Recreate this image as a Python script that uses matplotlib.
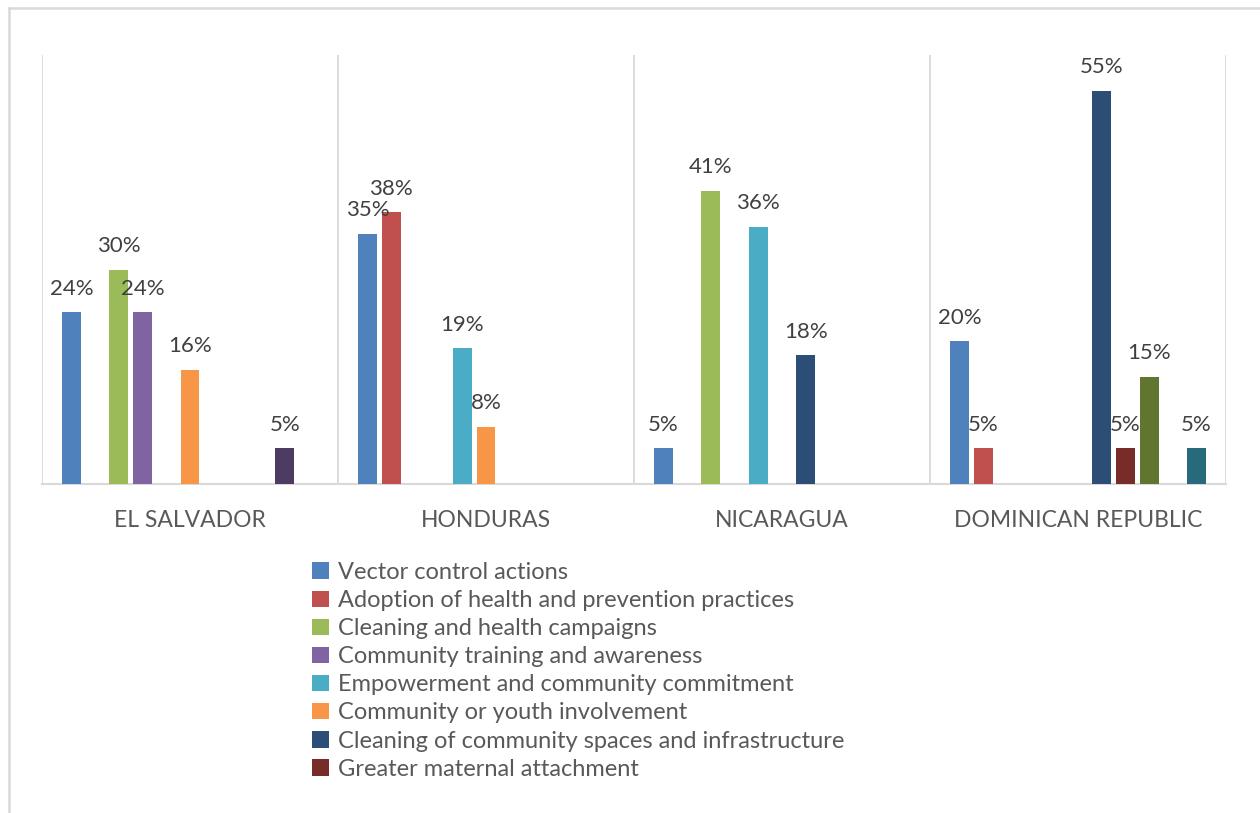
import matplotlib

matplotlib.use("Agg")
import matplotlib.pyplot as plt
import numpy as np
from matplotlib.lines import Line2D
from matplotlib.patches import Patch

plt.rcParams["font.family"] = ["Lato", "DejaVu Sans"]

countries = ["EL SALVADOR", "HONDURAS", "NICARAGUA", "DOMINICAN REPUBLIC"]

series_names = [
    "Vector control actions",
    "Adoption of health and prevention practices",
    "Cleaning and health campaigns",
    "Community training and awareness",
    "Empowerment and community commitment",
    "Community or youth involvement",
    "Cleaning of community spaces and infrastructure",
    "Greater maternal attachment",
    "Series 9",
    "Series 10",
    "Series 11",
]
n_legend = 8  # only the first eight entries are visible in the legend

nan = np.nan
vector_control = [24, 35, 5, 20]
adoption_practices = [nan, 38, nan, 5]
cleaning_campaigns = [30, nan, 41, nan]
community_training = [24, nan, nan, nan]
empowerment = [nan, 19, 36, nan]
youth_involvement = [16, 8, nan, nan]
cleaning_spaces = [nan, nan, 18, 55]
maternal_attachment = [nan, nan, nan, 5]
series_9 = [nan, nan, nan, 15]
series_10 = [5, nan, nan, nan]
series_11 = [nan, nan, nan, 5]

# slot order follows the Excel series order (9 = dark green, 10 = dark purple)
all_values = [
    vector_control, adoption_practices, cleaning_campaigns, community_training,
    empowerment, youth_involvement, cleaning_spaces, maternal_attachment,
    series_9, series_10, series_11,
]
colors = [
    "#4F81BD", "#C0504D", "#9BBB59", "#8064A2", "#4BACC6", "#F79646",
    "#2C4D75", "#772C2A", "#5F7530", "#4D3B62", "#276A7C",
]

fig = plt.figure(figsize=(12.6, 8.13), dpi=100)
W, H = 1260, 813
ax = fig.add_axes([42 / W, 1 - 484 / H, (1226 - 42) / W, (484 - 55) / H])

x = np.arange(len(countries))
slot = 0.08
bar_w = 0.064
n = len(all_values)
for i, (vals, col) in enumerate(zip(all_values, colors)):
    vals = np.array(vals, dtype=float)
    pos = x + (i - (n - 1) / 2) * slot
    ax.bar(pos, np.nan_to_num(vals), width=bar_w, color=col, zorder=3)
    for p, v in zip(pos, vals):
        if np.isnan(v):
            continue
        ax.annotate(f"{int(v)}%", (p, v), xytext=(0, 12.5), textcoords="offset points",
                    ha="center", va="baseline", fontsize=16, color="#404040", zorder=4)

ax.set_xlim(-0.5, 3.5)
ax.set_ylim(0, 60)
for xv in np.arange(-0.5, 3.6, 1.0):
    ax.axvline(xv, color="#d9d9d9", lw=1.3, zorder=1)

ax.set_yticks([])
ax.set_xticks(x)
ax.set_xticklabels(countries, fontsize=16.5, color="#595959")
ax.tick_params(axis="x", length=0, pad=19)
for s in ["top", "right", "left"]:
    ax.spines[s].set_visible(False)
ax.spines["bottom"].set_color("#d9d9d9")
ax.spines["bottom"].set_linewidth(1.5)

handles = [Patch(facecolor=c) for c in colors[:n_legend]]
fig.legend(handles, series_names[:n_legend], loc="upper left",
           bbox_to_anchor=(312 / W, 1 - 562 / H), frameon=False,
           fontsize=17, labelcolor="#595959", handlelength=0.7, handleheight=0.7,
           handletextpad=0.4, labelspacing=0.3, borderpad=0, borderaxespad=0)

# outer chart frame (partly cropped) and cut-off caption above it
fig.add_artist(Line2D([9 / W, 9 / W], [0, 1 - 8 / H], color="#d9d9d9", lw=1.8))
fig.add_artist(Line2D([9 / W, 1], [1 - 8 / H, 1 - 8 / H], color="#d9d9d9", lw=1.8))
fig.text(10 / W, 1 + 4.5 / H, "Figure 7: Changes promoted by the projects, by type and country",
         fontsize=15, fontweight="bold", fontstyle="italic", color="#2E74B5",
         va="baseline", ha="left")

fig.savefig("out.png", dpi=100)
